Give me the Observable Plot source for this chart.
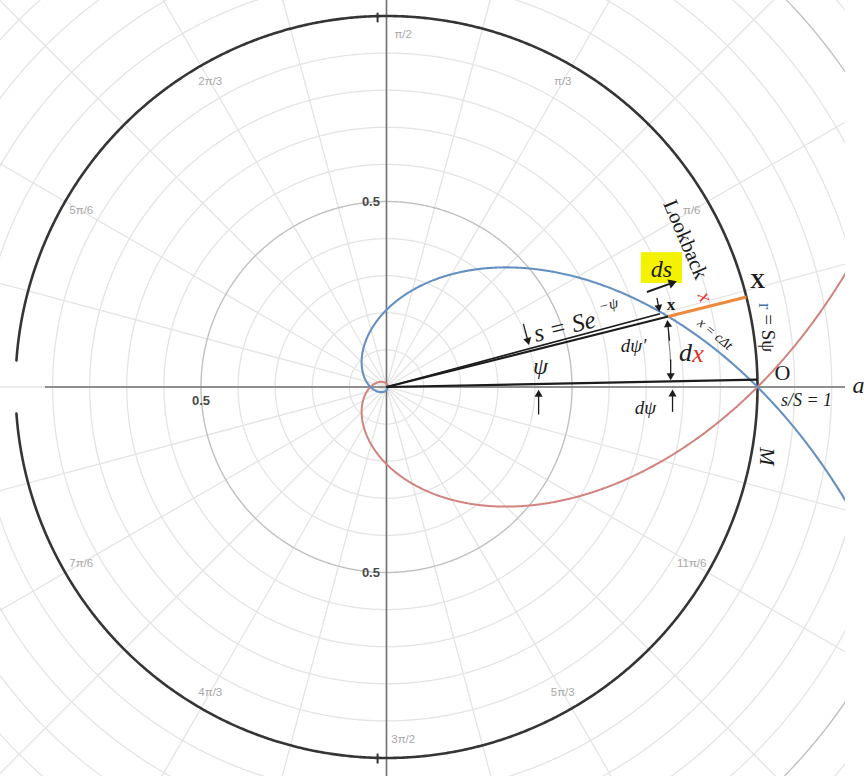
<!DOCTYPE html>
<html>
<head>
<meta charset="utf-8">
<script src="https://cdn.jsdelivr.net/npm/d3@7"></script>
<script src="https://cdn.jsdelivr.net/npm/@observablehq/plot@0.6"></script>
<style>
  html, body { margin: 0; padding: 0; background: #fff; }
  #chart svg { display: block; }
</style>
</head>
<body>
<div id="chart"></div>
<script>
// Polar plane of the lookback construction: unit circle s/S = 1,
// the spiral s = S·e^(−ψ) and its mirror image s = S·e^(ψ).
const S = 1;
const spiralPsi = [-0.36, 14];     // ψ span of s = S e^(−ψ)
const mirrorPsi = [-14, 0.245];    // ψ span of s = S e^(ψ)
const psiX = 0.245;                // angle of the ray through x and X
const dPsi = 0.02;                 // dψ between the ray to O and the axis
const dPsiPrime = 0.017;           // dψ′ between the two rays to x

// polar grid
const minorRadii = [0.1, 0.2, 0.3, 0.4, 0.6, 0.7, 0.8, 0.9, 1.1, 1.2, 1.3, 1.4, 1.6, 1.7];
const majorRadii = [0.5, 1.5];
const spokeDegrees = d3.range(0, 360, 15);
const angleLabels = ["π/6", "π/3", "π/2", "2π/3", "5π/6", "7π/6", "4π/3", "3π/2", "5π/3", "11π/6"];
const angleSixths = [1, 2, 3, 4, 5, 7, 8, 9, 10, 11];
const radiusLabels = ["0.5", "0.5", "0.5"];
const radiusLabelAngles = [Math.PI / 2, Math.PI, 3 * Math.PI / 2];

const pol = (r, a) => ({x: r * Math.cos(a), y: r * Math.sin(a)});
const arc = (r, a0, a1, step = 0.005) =>
  d3.range(a0, a1 + step / 2, step).map(a => ({...pol(r, a), r}));

const spiral = d3.range(spiralPsi[0], spiralPsi[1], 0.004).map(p => pol(S * Math.exp(-p), p));
const mirror = d3.range(mirrorPsi[0], mirrorPsi[1] + 1e-9, 0.004).map(p => pol(S * Math.exp(p), p));

const minorGrid = minorRadii.flatMap(r => arc(r, 0, 2 * Math.PI));
const majorGrid = majorRadii.flatMap(r => arc(r, 0, 2 * Math.PI));
const spokes = spokeDegrees.map(d => ({...pol(1.9, d * Math.PI / 180)}));

// unit circle, open around ψ = π
const gap = 4.1 * Math.PI / 180;
const unitCircle = arc(1, -Math.PI + gap, Math.PI - gap);

// points of the construction
const xPt = pol(S * Math.exp(-psiX), psiX);
const XPt = pol(1, psiX);
const xPt2 = pol(S * Math.exp(-psiX) * 0.975, psiX + dPsiPrime);
const OPt = pol(1, dPsi);

const ink = "#1c1c1c";
const serif = "'Liberation Serif', 'DejaVu Serif', serif";
const sans = "'Liberation Sans', Arial, sans-serif";

// arrows: tail (x1,y1) → tip (x2,y2), in plane units
const arrows = [
  {x1: 0.369, y1: 0.170, x2: 0.384, y2: 0.114, r: 3.8},   // ψ, from above
  {x1: 0.410, y1: -0.074, x2: 0.410, y2: -0.008, r: 3.8}, // ψ, from below
  {x1: 0.702, y1: 0.256, x2: 0.780, y2: 0.284, r: 5.2, w: 2}, // ds
  {x1: 0.729, y1: 0.240, x2: 0.736, y2: 0.203, r: 3.6},   // onto x
  {x1: 0.763, y1: 0.125, x2: 0.757, y2: 0.180, r: 3.8},   // dψ′ up to x
  {x1: 0.766, y1: 0.074, x2: 0.766, y2: 0.019, r: 3.8},   // dx down to the ray
  {x1: 0.771, y1: -0.067, x2: 0.771, y2: -0.007, r: 3.8}  // dψ up to the axis
];
const headBack = 0.012;
const arrowHeads = arrows.map(a => {
  const dx = a.x2 - a.x1, dy = a.y2 - a.y1, L = Math.hypot(dx, dy);
  return {
    x: a.x2 - dx / L * headBack, y: a.y2 - dy / L * headBack, r: a.r,
    rot: Math.atan2(dx, dy) * 180 / Math.PI
  };
});
const arrowStems = arrows.map((a, i) => ({...a, x2: arrowHeads[i].x, y2: arrowHeads[i].y}));

const T = (x, y, text, o = {}) =>
  Plot.text([{x, y, text}], {x: "x", y: "y", text: "text", fontFamily: serif, fill: ink, ...o});

const chart = Plot.plot({
  width: 864,
  height: 776,
  marginTop: 0,
  marginLeft: 0,
  marginBottom: 0,
  marginRight: 19,
  x: {domain: [-1.0404, 1.2372], axis: null},
  y: {domain: [-1.0499, 1.0418], axis: null},
  style: {background: "#fff", overflow: "visible"},
  marks: [
    // grid
    Plot.link(spokes, {x1: 0, y1: 0, x2: "x", y2: "y", stroke: "#e4e4e4", strokeWidth: 1.3, clip: true}),
    Plot.line(minorGrid, {x: "x", y: "y", z: "r", stroke: "#e4e4e4", strokeWidth: 1.3, clip: true}),
    Plot.line(majorGrid, {x: "x", y: "y", z: "r", stroke: "#c0c0c0", strokeWidth: 1.4, clip: true}),
    // axes
    Plot.ruleY([0], {x1: -0.919, x2: 1.2372, stroke: "#707070", strokeWidth: 1.6}),
    Plot.ruleX([0], {stroke: "#707070", strokeWidth: 1.6}),
    // angle and radius labels
    Plot.text(angleLabels, {
      x: (d, i) => 0.95 * Math.cos(angleSixths[i] * Math.PI / 6) + (angleSixths[i] % 3 === 0 ? 0.045 : 0),
      y: (d, i) => 0.95 * Math.sin(angleSixths[i] * Math.PI / 6),
      text: d => d, fontFamily: sans, fontSize: 11.5, fill: "#a8a8a8"
    }),
    Plot.text(radiusLabels, {
      x: (d, i) => 0.5 * Math.cos(radiusLabelAngles[i]) + (i === 1 ? 0 : -0.042),
      y: (d, i) => 0.5 * Math.sin(radiusLabelAngles[i]) + (i === 1 ? -0.037 : 0),
      text: d => d, fontFamily: sans, fontSize: 13, fontWeight: "bold", fill: "#4a4a4a"
    }),
    // unit circle s/S = 1
    Plot.line(unitCircle, {x: "x", y: "y", stroke: "#353535", strokeWidth: 2.6}),
    Plot.link([{y1: 1.009, y2: 0.983}, {y1: -0.988, y2: -1.015}], {x1: -0.024, x2: -0.024, y1: "y1", y2: "y2", stroke: "#353535", strokeWidth: 2}),
    // spirals
    Plot.line(mirror, {x: "x", y: "y", stroke: "#d3837d", strokeWidth: 2, clip: true}),
    Plot.line(spiral, {x: "x", y: "y", stroke: "#6591c2", strokeWidth: 2.1, clip: true}),
    // rays
    Plot.link([{x2: OPt.x, y2: OPt.y}], {x1: 0, y1: 0, x2: "x2", y2: "y2", stroke: ink, strokeWidth: 2.2}),
    Plot.link([{x2: xPt.x, y2: xPt.y}], {x1: 0, y1: 0, x2: "x2", y2: "y2", stroke: ink, strokeWidth: 2}),
    Plot.link([{x2: xPt2.x, y2: xPt2.y}], {x1: 0, y1: 0, x2: "x2", y2: "y2", stroke: ink, strokeWidth: 1.6}),
    // lookback segment x → X
    Plot.link([{x1: xPt.x, y1: xPt.y, x2: XPt.x, y2: XPt.y}], {x1: "x1", y1: "y1", x2: "x2", y2: "y2", stroke: "#ee8a3c", strokeWidth: 3.2}),
    // dx guide
    Plot.link([{x1: 0.760, y1: 0.150, x2: 0.765, y2: 0.070}], {x1: "x1", y1: "y1", x2: "x2", y2: "y2", stroke: "#777", strokeWidth: 1, curve: "bump-y"}),
    // ds highlight
    Plot.rect([{}], {x1: 0.687, x2: 0.798, y1: 0.279, y2: 0.362, fill: "#f4f200"}),
    // arrows
    Plot.link(arrowStems, {x1: "x1", y1: "y1", x2: "x2", y2: "y2", stroke: ink, strokeWidth: d => d.w ?? 1.3}),
    Plot.dot(arrowHeads, {x: "x", y: "y", r: "r", symbol: "triangle", rotate: "rot", fill: ink, stroke: "none"}),
    // annotations
    T(0.398, 0.142, "s = Se", {fontStyle: "italic", fontSize: 25, rotate: -14, textAnchor: "start"}),
    T(0.598, 0.222, "−ψ", {fontStyle: "italic", fontSize: 15, rotate: -14}),
    T(0.415, 0.055, "ψ", {fontStyle: "italic", fontSize: 24}),
    T(0.741, 0.318, "ds", {fontStyle: "italic", fontSize: 24}),
    T(0.767, 0.222, "x", {fontWeight: "bold", fontSize: 17}),
    T(0.666, 0.110, "dψ′", {fontStyle: "italic", fontSize: 19}),
    T(0.806, 0.093, "d", {fontStyle: "italic", fontSize: 26}),
    T(0.840, 0.089, "x", {fontStyle: "italic", fontSize: 26, fill: "#e0302a"}),
    T(0.698, -0.056, "dψ", {fontStyle: "italic", fontSize: 19}),
    T(1.000, 0.284, "X", {fontWeight: "bold", fontSize: 21}),
    T(0.762, 0.502, "Lookback", {fontSize: 21, rotate: 67, textAnchor: "start"}),
    T(0.859, 0.243, "x", {fontStyle: "italic", fontSize: 20, rotate: 67, fill: "#e0302a"}),
    T(0.886, 0.143, "x = cΔt", {fontStyle: "italic", fontSize: 14, rotate: 40}),
    T(1.020, 0.218, "r", {fontSize: 19, rotate: 90, fill: "#3f73b0"}),
    T(1.028, 0.196, "= Sψ", {fontSize: 19, rotate: 90, textAnchor: "start"}),
    T(1.067, 0.037, "O", {fontSize: 22}),
    T(1.132, -0.036, "s/S = 1", {fontStyle: "italic", fontSize: 18}),
    T(1.272, 0.004, "a", {fontStyle: "italic", fontSize: 24}),
    T(1.027, -0.187, "M", {fontStyle: "italic", fontSize: 22, rotate: 90})
  ]
});

document.getElementById("chart").append(chart);
</script>
</body>
</html>
